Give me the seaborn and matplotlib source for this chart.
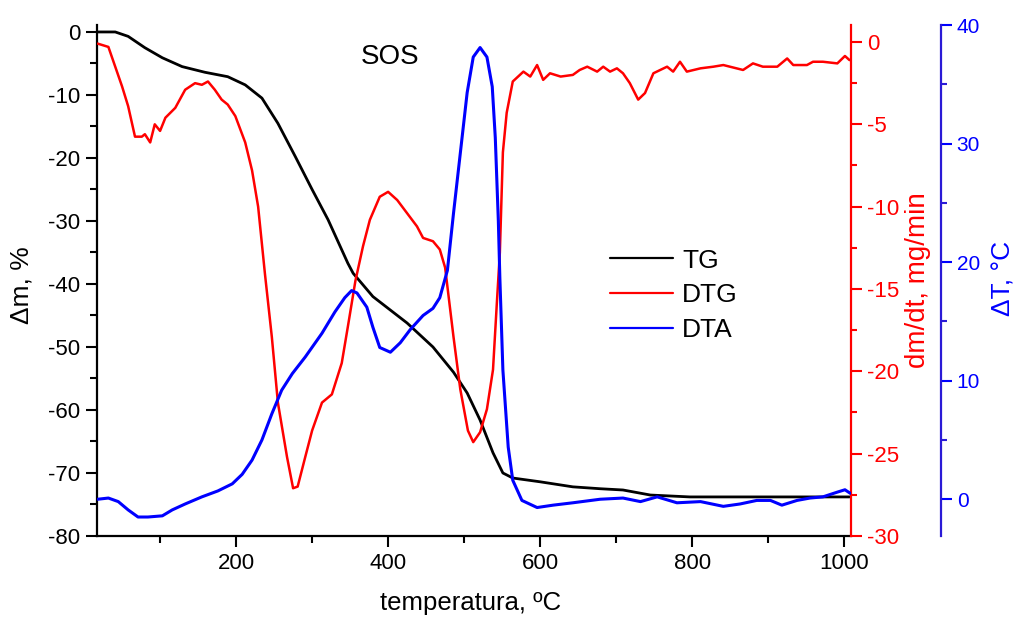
import numpy as np
import pandas as pd
import seaborn as sns
import matplotlib.pyplot as plt
from matplotlib.ticker import MultipleLocator

# ---- data ----
tg_temp = [18, 41, 58, 80, 103, 129, 159, 189, 212, 234, 255, 278, 300, 321, 347,
           354, 380, 425, 459, 486, 504, 521, 538, 551, 564, 600, 643, 679, 709,
           745, 797, 885, 1007]
tg_mass = [0, 0, -0.7, -2.5, -4.1, -5.5, -6.4, -7.1, -8.4, -10.5, -14.5, -19.8, -25,
           -29.8, -36.7, -38.3, -42, -46.2, -50, -54, -57.3, -61.6, -66.8, -70,
           -70.8, -71.4, -72.2, -72.5, -72.7, -73.5, -73.8, -73.8, -73.8]

dtg_temp = [18, 32, 41, 50, 58, 67, 76, 80, 87, 93, 100, 107, 120, 133, 146, 155,
            163, 172, 181, 189, 199, 212, 221, 229, 238, 247, 255, 267, 275, 281,
            291, 300, 313, 326, 339, 347, 357, 367, 376, 389, 400, 412, 425, 438,
            446, 459, 468, 475, 486, 495, 505, 512, 521, 530, 538, 543, 547, 551,
            556, 564, 578, 587, 596, 604, 613, 627, 643, 652, 662, 675, 683, 692,
            701, 709, 718, 729, 738, 749, 767, 775, 784, 793, 811, 828, 841, 867,
            880, 893, 912, 925, 933, 951, 959, 972, 991, 1001, 1007]
dtg_rate = [-0.1, -0.3, -1.5, -2.7, -3.9, -5.75, -5.75, -5.6, -6.1, -5.0, -5.4, -4.6,
            -4.0, -2.9, -2.5, -2.6, -2.4, -2.9, -3.5, -3.8, -4.5, -6.1, -7.8, -10,
            -14.1, -17.9, -21.9, -25.2, -27.1, -27.0, -25.2, -23.6, -21.9, -21.4,
            -19.5, -17.3, -14.5, -12.4, -10.8, -9.4, -9.1, -9.6, -10.4, -11.2, -11.9,
            -12.1, -12.6, -13.7, -17.9, -21.1, -23.6, -24.3, -23.7, -22.3, -19.9,
            -15.9, -12.8, -6.7, -4.3, -2.4, -1.8, -2.1, -1.4, -2.3, -1.9, -2.1, -2.0,
            -1.7, -1.5, -1.8, -1.5, -1.8, -1.6, -1.9, -2.5, -3.5, -3.1, -1.9, -1.5,
            -1.8, -1.2, -1.8, -1.6, -1.5, -1.4, -1.7, -1.3, -1.5, -1.5, -1.0, -1.4,
            -1.4, -1.2, -1.2, -1.3, -0.85, -1.1]

dta_temp = [18, 32, 45, 58, 71, 84, 103, 116, 133, 155, 176, 195, 208, 221, 234,
            247, 260, 274, 291, 313, 330, 343, 352, 359, 372, 380, 389, 403, 416,
            429, 446, 459, 468, 478, 486, 495, 504, 512, 521, 530, 537, 541, 545,
            547, 551, 558, 564, 576, 596, 617, 643, 679, 709, 732, 754, 780, 811,
            841, 863, 885, 903, 918, 938, 955, 972, 991, 1001, 1008]
dta_delta = [0.0, 0.1, -0.2, -0.9, -1.5, -1.5, -1.4, -0.9, -0.4, 0.2, 0.7, 1.3, 2.1,
             3.3, 5.0, 7.2, 9.2, 10.6, 12.0, 14.0, 15.8, 17.0, 17.6, 17.4, 16.2,
             14.5, 12.8, 12.4, 13.2, 14.3, 15.5, 16.1, 17.0, 19.3, 24.1, 29.2, 34.3,
             37.3, 38.1, 37.3, 34.8, 30.5, 23.5, 18.7, 10.9, 4.4, 1.6, -0.1, -0.7,
             -0.5, -0.3, 0.0, 0.1, -0.2, 0.2, -0.3, -0.2, -0.6, -0.4, -0.1, -0.1,
             -0.5, -0.1, 0.1, 0.2, 0.6, 0.8, 0.5]

tg = pd.DataFrame({"T": tg_temp, "v": tg_mass})
dtg = pd.DataFrame({"T": dtg_temp, "v": dtg_rate})
dta = pd.DataFrame({"T": dta_temp, "v": dta_delta})

# ---- style ----
sns.set_style("ticks")
plt.rcParams['font.family'] = ['Liberation Sans', 'DejaVu Sans']
plt.rcParams['axes.unicode_minus'] = False
plt.rcParams['text.color'] = 'black'
plt.rcParams['axes.labelcolor'] = 'black'
plt.rcParams['xtick.color'] = 'black'
plt.rcParams['ytick.color'] = 'black'

RED = "#ff0000"
BLUE = "#0000ff"

fig = plt.figure(figsize=(10.22, 6.21), dpi=100)
ax = fig.add_axes([0.0949, 0.1369, 0.7378, 0.8228])
ax2 = ax.twinx()
ax3 = ax.twinx()

sns.lineplot(data=tg, x="T", y="v", ax=ax, color="black", lw=2, label="TG", legend=False)
sns.lineplot(data=dtg, x="T", y="v", ax=ax2, color=RED, lw=1.8, label="DTG", legend=False)
sns.lineplot(data=dta, x="T", y="v", ax=ax3, color=BLUE, lw=2.2, label="DTA", legend=False)

# main axis
ax.set_xlim(17, 1009)
ax.set_ylim(-80, 1.1)
ax.xaxis.set_major_locator(MultipleLocator(200))
ax.xaxis.set_minor_locator(MultipleLocator(100))
ax.set_yticks(np.arange(-80, 1, 10))
ax.yaxis.set_minor_locator(MultipleLocator(5))
ax.spines["top"].set_visible(False)
ax.spines["right"].set_visible(False)
for s in ["left", "bottom"]:
    ax.spines[s].set_linewidth(1.6)
    ax.spines[s].set_color("black")
ax.tick_params(which="major", direction="out", length=8, width=1.5, pad=4)
ax.tick_params(which="minor", direction="out", length=5, width=1.5)
ax.tick_params(axis="x", labelsize=16)
ax.tick_params(axis="y", labelsize=16)
ax.set_xlabel("temperatura, ºC", fontsize=18.5)
ax.set_ylabel("Δm, %", fontsize=19)
ax.xaxis.set_label_coords(0.495, -0.108)
ax.yaxis.set_label_coords(-0.084, 0.49)

# DTG axis
ax2.set_ylim(-30, 1.03)
ax2.set_yticks(np.arange(-30, 1, 5))
ax2.yaxis.set_minor_locator(MultipleLocator(2.5))
for s in ["top", "left", "bottom"]:
    ax2.spines[s].set_visible(False)
ax2.spines["right"].set_color(RED)
ax2.spines["right"].set_linewidth(1.6)
ax2.tick_params(axis="y", which="major", colors=RED, direction="out", length=8, width=1.5, labelsize=16)
ax2.tick_params(axis="y", which="minor", colors=RED, direction="out", length=4, width=1.5)
ax2.set_ylabel("dm/dt, mg/min", fontsize=20, color=RED)
ax2.yaxis.set_label_coords(1.072, 0.5)

# DTA axis
ax3.spines["right"].set_position(("axes", 1.119))
ax3.set_ylim(-3.1, 40)
ax3.set_yticks(np.arange(0, 41, 10))
ax3.yaxis.set_minor_locator(MultipleLocator(5))
for s in ["top", "left", "bottom"]:
    ax3.spines[s].set_visible(False)
ax3.spines["right"].set_color("#2a1ad6")
ax3.spines["right"].set_linewidth(1.6)
ax3.tick_params(axis="y", which="major", colors=BLUE, direction="out", length=8, width=1.5, labelsize=15)
ax3.tick_params(axis="y", which="minor", colors="#2a1ad6", direction="out", length=4, width=1.5)
ax3.set_ylabel("ΔT, °C", fontsize=19, color=BLUE)
ax3.yaxis.set_label_coords(1.186, 0.505)

for a in (ax, ax2, ax3):
    a.set_xlim(17, 1009)

ax.text(402, -4.0, "SOS", fontsize=20, ha="center", va="center")

handles, labels = [], []
for a in (ax, ax2, ax3):
    h, l = a.get_legend_handles_labels()
    handles += h
    labels += l
leg = ax3.legend(handles, labels, loc="upper left", bbox_to_anchor=(0.666, 0.583),
                 frameon=False, fontsize=19, handlelength=2.4, handletextpad=0.35,
                 labelspacing=0.4, borderaxespad=0)
for line in leg.get_lines():
    line.set_linewidth(1.6)

fig.savefig("out.png", dpi=100)
